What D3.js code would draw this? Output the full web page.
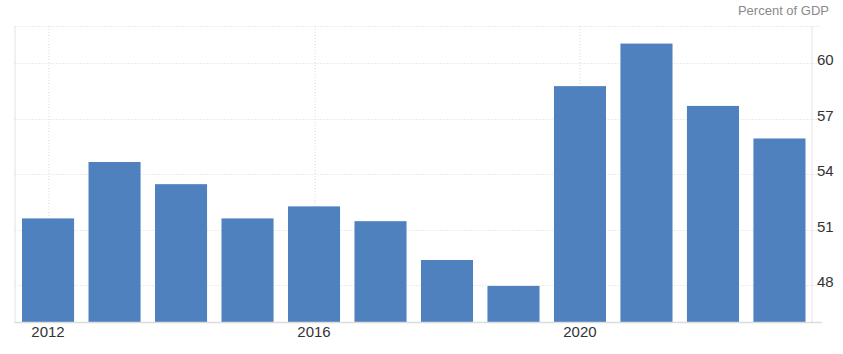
<!DOCTYPE html>
<html>
<head>
<meta charset="utf-8">
<script src="https://d3js.org/d3.v7.min.js"></script>
<style>
  body { margin: 0; background: #fff; }
  text { font-family: "Liberation Sans", Arial, sans-serif; }
</style>
</head>
<body>
<div id="chart-area"></div>
<script>
// chart data
let years = ["2012", "2013", "2014", "2015", "2016", "2017", "2018", "2019", "2020", "2021", "2022", "2023"];
let values = [51.6, 54.65, 53.45, 51.6, 52.25, 51.45, 49.35, 47.95, 58.75, 61.05, 57.68, 55.92];
let yTicks = [48, 51, 54, 57, 60];
let xLabels = ["2012", "2016", "2020"];

let margin = {top: 26, right: 30, bottom: 32, left: 14.5};
let width = 843 - margin.left - margin.right;
let height = 354 - margin.top - margin.bottom;

let svg = d3.select("#chart-area").append("svg")
		.attr("width", 843)
		.attr("height", 354)
	.append("g")
		.attr("transform", "translate(" + margin.left + "," + margin.top + ")");

let xScale = d3.scaleBand()
	.domain(years)
	.range([0, width])
	.paddingInner(0.217)
	.paddingOuter(0.113);

let yScale = d3.scaleLinear()
	.domain([46, 62])
	.range([height, 0]);

// horizontal gridlines (dotted, running out to the labels)
svg.selectAll(".hgrid")
	.data(yTicks)
	.enter().append("line")
	.attr("class", "hgrid")
	.attr("x1", 0)
	.attr("x2", width + 4)
	.attr("y1", d => Math.round(yScale(d)) + 0.5)
	.attr("y2", d => Math.round(yScale(d)) + 0.5)
	.attr("stroke", "#d9d9d9")
	.attr("stroke-dasharray", "1,2");

// top border dotted
svg.append("line")
	.attr("x1", 0).attr("x2", width + 8)
	.attr("y1", 0.5).attr("y2", 0.5)
	.attr("stroke", "#d9d9d9")
	.attr("stroke-dasharray", "1,2");

// vertical gridlines at labelled years
svg.selectAll(".vgrid")
	.data(xLabels)
	.enter().append("line")
	.attr("class", "vgrid")
	.attr("x1", d => Math.round(xScale(d) + xScale.bandwidth() / 2) + 0.5)
	.attr("x2", d => Math.round(xScale(d) + xScale.bandwidth() / 2) + 0.5)
	.attr("y1", 0)
	.attr("y2", height)
	.attr("stroke", "#d9d9d9")
	.attr("stroke-dasharray", "1,2");

// left and right borders
svg.append("line")
	.attr("x1", 0.5).attr("x2", 0.5)
	.attr("y1", 0).attr("y2", height)
	.attr("stroke", "#e3e3e3");
svg.append("line")
	.attr("x1", width - 1).attr("x2", width - 1)
	.attr("y1", 0).attr("y2", height)
	.attr("stroke", "#e3e3e3");

// bars
svg.selectAll(".bar")
	.data(values)
	.enter().append("rect")
	.attr("class", "bar")
	.attr("x", (d, i) => xScale(years[i]))
	.attr("width", xScale.bandwidth())
	.attr("y", d => yScale(d))
	.attr("height", d => height - yScale(d))
	.attr("fill", "#4e81bd");

// bottom axis line
svg.append("line")
	.attr("x1", 0).attr("x2", width + 9)
	.attr("y1", height + 0.5).attr("y2", height + 0.5)
	.attr("stroke", "#dcdcdc")
	.attr("stroke-width", 1.5);

// x labels
svg.selectAll(".xlabel")
	.data(xLabels)
	.enter().append("text")
	.attr("class", "xlabel")
	.attr("x", d => xScale(d) + xScale.bandwidth() / 2)
	.attr("y", height + 15)
	.attr("text-anchor", "middle")
	.attr("font-size", "15px")
	.attr("fill", "#333")
	.text(d => d);

// y labels on the right
svg.selectAll(".ylabel")
	.data(yTicks)
	.enter().append("text")
	.attr("class", "ylabel")
	.attr("x", width + 4)
	.attr("y", d => yScale(d) + 2)
	.attr("font-size", "15px")
	.attr("fill", "#333")
	.text(d => d);

// unit label
svg.append("text")
	.attr("x", width + 16)
	.attr("y", -11)
	.attr("text-anchor", "end")
	.attr("font-size", "13px")
	.attr("fill", "#8a8a8a")
	.text("Percent of GDP");
</script>
</body>
</html>
